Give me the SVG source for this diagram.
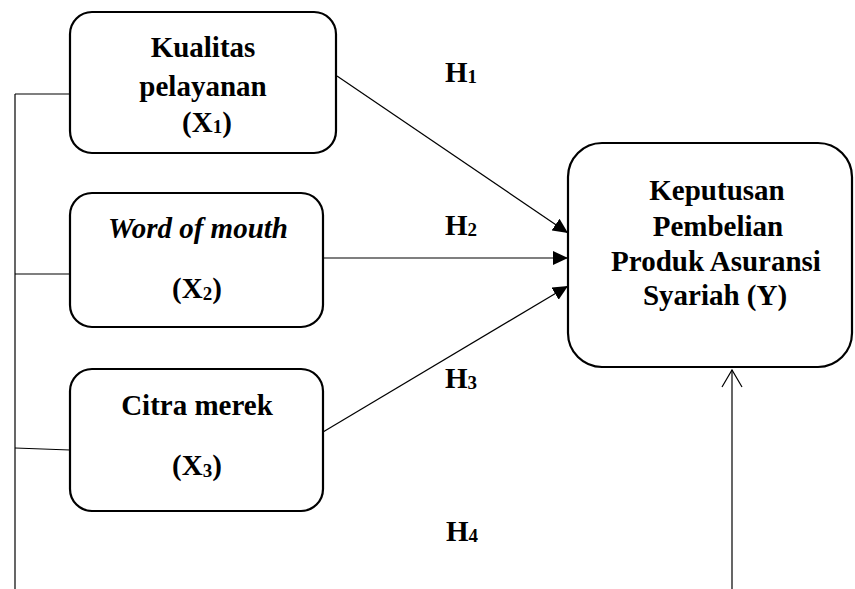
<svg xmlns="http://www.w3.org/2000/svg" width="855" height="589" viewBox="0 0 855 589">
<style>
.box{fill:#fff;stroke:#000;stroke-width:2.2}
.t{font-family:"Liberation Serif","Times New Roman",serif;font-weight:bold;font-size:29px;fill:#000;text-anchor:middle}
.h{font-family:"Liberation Serif","Times New Roman",serif;font-weight:bold;font-size:29px;fill:#000}
.ln{stroke:#000;stroke-width:1.2;fill:none}
.sub{font-size:19px}
.hs{font-size:19px}
</style>
<defs>
<marker id="ah" markerUnits="userSpaceOnUse" markerWidth="16" markerHeight="14" refX="15" refY="7" orient="auto">
<path d="M0,0 L15,7 L0,14 Z" fill="#000"/>
</marker>
</defs>
<rect width="855" height="589" fill="#fff"/>
<g id="connectors">
<path class="ln" d="M15,94 V589"/>
<path class="ln" d="M15,94 H70"/>
<path class="ln" d="M15,274 H70"/>
<path class="ln" d="M15,448 L70,450"/>
<path class="ln" d="M337,76 L568,233" marker-end="url(#ah)"/>
<path class="ln" d="M323,258 L568,258" marker-end="url(#ah)"/>
<path class="ln" d="M323,432 L568,286" marker-end="url(#ah)"/>
<path class="ln" d="M732,589 V370"/>
<path class="ln" d="M722,387 L732,370 L742,387"/>
</g>
<g id="x1">
<rect class="box" x="70" y="12" width="266" height="141" rx="22"/>
<text class="t"><tspan x="203" y="57">Kualitas</tspan><tspan x="203" y="96">pelayanan</tspan><tspan x="207" y="132">(X<tspan class="sub" dy="1">1</tspan><tspan dy="-1">)</tspan></tspan></text>
</g>
<g id="x2">
<rect class="box" x="70" y="193" width="253" height="134" rx="22"/>
<text class="t"><tspan x="198" y="238" font-style="italic">Word of mouth</tspan><tspan x="197" y="298">(X<tspan class="sub" dy="2">2</tspan><tspan dy="-2">)</tspan></tspan></text>
</g>
<g id="x3">
<rect class="box" x="70" y="369" width="253" height="142" rx="22"/>
<text class="t"><tspan x="197" y="415">Citra merek</tspan><tspan x="197" y="475">(X<tspan class="sub" dy="2">3</tspan><tspan dy="-2">)</tspan></tspan></text>
</g>
<g id="y">
<rect class="box" x="568" y="143" width="284" height="224" rx="34"/>
<text class="t"><tspan x="717" y="200">Keputusan</tspan><tspan x="718" y="236">Pembelian</tspan><tspan x="716" y="271">Produk Asuransi</tspan><tspan x="715" y="305">Syariah (Y)</tspan></text>
</g>
<g id="labels">
<text class="h" x="445" y="82">H<tspan class="hs" dy="1">1</tspan></text>
<text class="h" x="445" y="235">H<tspan class="hs" dy="1">2</tspan></text>
<text class="h" x="445" y="388">H<tspan class="hs" dy="1">3</tspan></text>
<text class="h" x="446" y="541">H<tspan class="hs" dy="1">4</tspan></text>
</g>
</svg>
